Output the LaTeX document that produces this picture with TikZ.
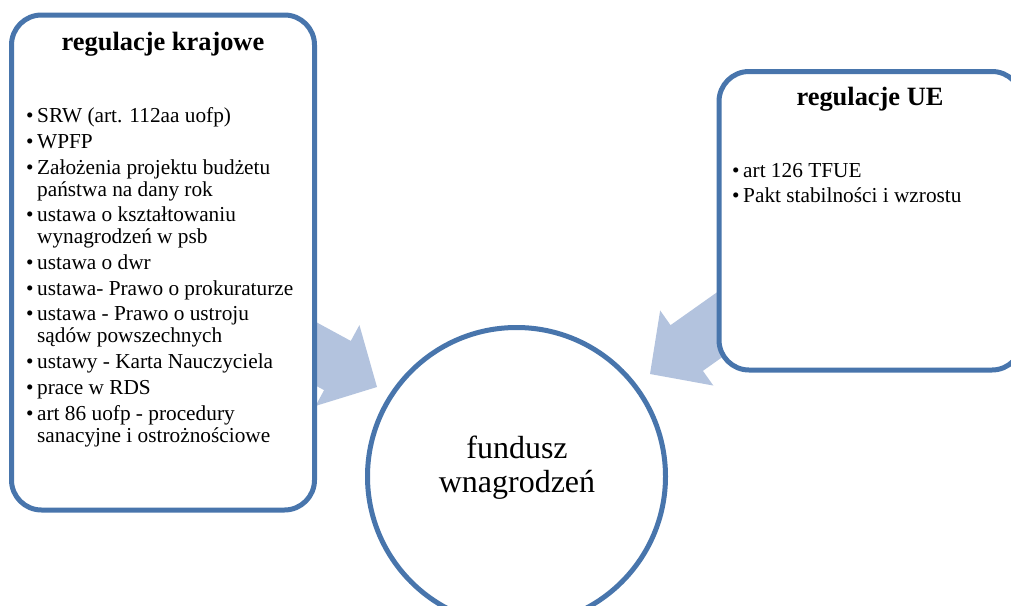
\documentclass[tikz,border=0pt]{standalone}
\usepackage{fontspec}
\setmainfont{Liberation Serif}
\definecolor{frame}{RGB}{72,117,172}
\definecolor{arrowfill}{RGB}{179,195,222}
% bullet item: the bullet hangs into the left skip
\newcommand\blt{\par\noindent\llap{\makebox[11pt][l]{\textbullet}}}
\tikzset{
  panel/.style={draw=frame, line width=5pt, rounded corners=30pt, fill=white, inner sep=0pt},
  hub/.style={draw=frame, line width=5pt, circle, fill=white, inner sep=0pt, minimum size=298pt},
  blockarrow/.style={fill=arrowfill, draw=none},
  heading/.style={font=\fontsize{26.4}{30}\selectfont\bfseries, anchor=base, inner sep=0pt},
  listtext/.style={anchor=base west, inner sep=0pt, font=\fontsize{21.3}{22}\selectfont},
  hubtext/.style={anchor=base, inner sep=0pt, font=\fontsize{32}{34}\selectfont},
}
\begin{document}
\begin{tikzpicture}[x=1pt, y=-1pt]
  \useasboundingbox (0,0) rectangle (1011,605);
  \begin{scope}
    \clip (0,0) rectangle (1011,605);

    % arrow tips
    \coordinate (ltip) at (377,387);
    \coordinate (rtip) at (650,374);

    % block arrows (their shafts run under the panels)
    \begin{scope}[shift={(ltip)}, rotate=-28.5]
      \path[blockarrow] (0,0) -- (-45,-46) -- (-45,-28) -- (-120,-28)
        -- (-120,28) -- (-45,28) -- (-45,46) -- cycle;
    \end{scope}
    \begin{scope}[shift={(rtip)}, rotate=-144.7]
      \path[blockarrow] (0,0) -- (-45,-46) -- (-45,-28) -- (-120,-28)
        -- (-120,28) -- (-45,28) -- (-45,46) -- cycle;
    \end{scope}

    % panels and hub
    \node[panel, minimum width=303pt, minimum height=495pt] (kraj) at (163,262.5) {};
    \node[panel, minimum width=303pt, minimum height=298.5pt] (ue) at (870.5,220.75) {};
    \node[hub] (fund) at (516.5,476.5) {};

    % headings
    \node[heading] (krajtitle) at (163,50) {regulacje krajowe};
    \node[heading] (uetitle) at (870,105) {regulacje UE};

    % national regulations
    \node[listtext] (krajlist) at (26,122.7) {\parbox[t]{290pt}{\raggedright
      \leftskip=11pt \parskip=3.7pt \baselineskip=22pt
      \blt SRW (art. 112aa uofp)
      \blt WPFP
      \blt Założenia projektu budżetu\\państwa na dany rok
      \blt ustawa o kształtowaniu\\wynagrodzeń w psb
      \blt ustawa o dwr
      \blt ustawa- Prawo o prokuraturze
      \blt ustawa - Prawo o ustroju\\sądów powszechnych
      \blt ustawy - Karta Nauczyciela
      \blt prace w RDS
      \blt art 86 uofp - procedury\\sanacyjne i ostrożnościowe}};

    % EU regulations
    \node[listtext] (uelist) at (732,177) {\parbox[t]{270pt}{\raggedright
      \leftskip=11pt \parskip=3.7pt \baselineskip=22pt
      \blt art 126 TFUE
      \blt Pakt stabilności i wzrostu}};

    % hub label
    \node[hubtext] (fundtext) at (517,458) {\parbox[t]{220pt}{\centering
      \baselineskip=34pt fundusz\\wnagrodzeń}};
  \end{scope}
\end{tikzpicture}
\end{document}
